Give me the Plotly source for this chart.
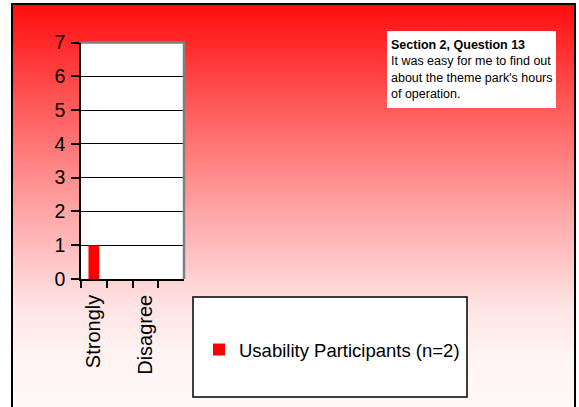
import numpy as np
import plotly.graph_objects as go

# ---- data ----
categories = ["Strongly Disagree", "Disagree", "Agree", "Strongly Agree"]
tick_labels = ["Strongly", "", "Disagree", ""]
series_name = "Usability Participants (n=2)"
series_values = [1, 0, 0, 0]
y_ticks = [0, 1, 2, 3, 4, 5, 6, 7]
note_title = "Section 2, Question 13"
note_lines = ["It was easy for me to find out", "about the theme park's hours", "of operation."]

W, H = 579, 407
FONT = "Liberation Sans, Arial, sans-serif"

def px(x):
    return x / W

def py(y):
    return 1 - y / H

shapes = []
# gradient background (red -> white) inside the chart border
stops_y = [4, 104, 204, 304, 354, 410]
stops_g = [12, 88, 160, 226, 243, 250]
step = 3
for y0 in range(4, 410, step):
    g = int(round(np.interp(y0 + step / 2, stops_y, stops_g)))
    shapes.append(dict(type="rect", xref="paper", yref="paper", layer="below",
                       x0=px(12), x1=px(575), y0=py(y0), y1=py(min(y0 + step + 1.2, 412)),
                       fillcolor=f"rgb(255,{g},{g})", line=dict(width=0)))
# chart border
shapes.append(dict(type="rect", xref="paper", yref="paper", layer="below",
                   x0=px(12), x1=px(575), y0=py(4), y1=py(412),
                   fillcolor="rgba(0,0,0,0)", line=dict(color="black", width=2)))
# plot area white
pl, pr, pt, pb = 81, 184, 42.5, 279
shapes.append(dict(type="rect", xref="paper", yref="paper", layer="below",
                   x0=px(pl), x1=px(pr), y0=py(pb), y1=py(pt),
                   fillcolor="white", line=dict(width=0)))
# gray top / right plot border
shapes.append(dict(type="line", xref="paper", yref="paper", layer="above",
                   x0=px(pl), x1=px(pr + 1), y0=py(pt), y1=py(pt),
                   line=dict(color="#808080", width=2.5)))
shapes.append(dict(type="line", xref="paper", yref="paper", layer="above",
                   x0=px(pr), x1=px(pr), y0=py(pt), y1=py(pb),
                   line=dict(color="#808080", width=2.5)))
# note box
shapes.append(dict(type="rect", xref="paper", yref="paper", layer="below",
                   x0=px(387), x1=px(556), y0=py(108), y1=py(31),
                   fillcolor="white", line=dict(width=0)))
# legend box
shapes.append(dict(type="rect", xref="paper", yref="paper", layer="below",
                   x0=px(193), x1=px(467), y0=py(397), y1=py(297),
                   fillcolor="white", line=dict(color="black", width=1.5)))

fig = go.Figure()
fig.add_trace(go.Bar(x=categories, y=series_values, name=series_name,
                     marker=dict(color="#ff0000", line=dict(width=0)),
                     width=0.42, showlegend=True))

fig.update_layout(
    width=W, height=H, autosize=False,
    margin=dict(l=0, r=0, t=0, b=0, autoexpand=False),
    paper_bgcolor="white", plot_bgcolor="rgba(0,0,0,0)",
    font=dict(family=FONT, color="black", size=18.5),
    shapes=shapes,
    showlegend=True,
    legend=dict(x=px(199), y=py(350), xanchor="left", yanchor="middle",
                bgcolor="rgba(0,0,0,0)", borderwidth=0,
                font=dict(size=18.5, family=FONT, color="black")),
    xaxis=dict(domain=[px(pl), px(pr)], type="category",
               categoryorder="array", categoryarray=categories,
               range=[-0.5, 3.5], tickvals=categories, ticktext=tick_labels,
               tickson="boundaries", ticks="outside", ticklen=7, tickwidth=1.5,
               tickcolor="black", tickangle=-90, showline=True, linecolor="black",
               linewidth=1.5, showgrid=False, zeroline=False, automargin=False,
               ticklabelstandoff=6,
               tickfont=dict(size=20, family=FONT, color="black"),
               fixedrange=True),
    yaxis=dict(domain=[py(pb), py(pt)], range=[0, 7], tickvals=y_ticks,
               ticks="outside", ticklen=8, tickwidth=1.5, tickcolor="black",
               showline=True, linecolor="black", linewidth=1.5, automargin=False,
               showgrid=True, gridcolor="black", gridwidth=1, zeroline=False,
               ticklabelstandoff=2,
               tickfont=dict(size=19.5, family=FONT, color="black"),
               fixedrange=True),
    annotations=[dict(xref="paper", yref="paper", x=px(389), y=py(36),
                      xanchor="left", yanchor="top", align="left", showarrow=False,
                      text="<b>" + note_title + "</b><br>" + "<br>".join(note_lines),
                      font=dict(size=12.5, family=FONT, color="black"))],
)

post = (
    "document.documentElement.style.margin='0';"
    "document.documentElement.style.padding='0';"
    "document.body.style.margin='0';document.body.style.padding='0';"
    "document.body.style.overflow='hidden';"
    "var gdiv=document.querySelector('.plotly-graph-div');"
    "gdiv.style.position='fixed';gdiv.style.left='0px';gdiv.style.top='0px';"
)
fig.write_html("out.html", config={"displayModeBar": False, "responsive": False},
               post_script=post)
